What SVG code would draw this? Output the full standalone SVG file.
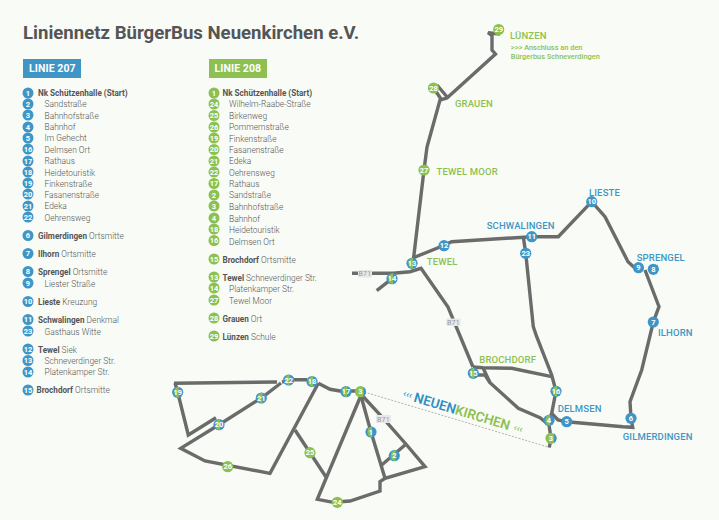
<svg xmlns="http://www.w3.org/2000/svg" width="719" height="520" viewBox="0 0 719 520">
<style>
text{font-family:Roboto,"Liberation Sans",sans-serif}
.bg{fill:#f9fbf6}
.t{font-size:18.600px;font-weight:700;fill:#555}
.h{font-size:10.500px;font-weight:700;fill:#fff;letter-spacing:.1px}
.r{font-size:8.400px;font-weight:300;fill:#555}
.b{font-size:8.150px;font-weight:700;fill:#555}
.n{font-size:7.500px;font-weight:700;fill:#fff;text-anchor:middle}
.lb{font-size:9.500px;font-weight:500;fill:#3f96c6;letter-spacing:.15px}
.lg{font-size:9.500px;font-weight:500;fill:#8cc152;letter-spacing:.15px}
.sg{font-size:7.400px;font-weight:500;fill:#8cc152}
.road{fill:none;stroke:#6b6b6b;stroke-width:3.400;stroke-linejoin:miter}
.dash{fill:none;stroke:#aaa;stroke-width:.9;stroke-dasharray:2 1.5}
.sign{fill:#e8e8e8}
.st{font-size:7px;fill:#999;text-anchor:middle;letter-spacing:.3px}
.cb{fill:#3f96c6}.cg{fill:#8cc152}
</style>
<defs>
<g id="mix"><circle r="5.600" fill="#3f96c6"/><path d="M1 -5.500A5.600 5.600 0 0 0 1 5.500Z" fill="#8cc152"/></g>
<g id="mix2"><circle r="5.600" fill="#8cc152"/><path d="M3 -4.700A5.600 5.600 0 0 1 3 4.700Z" fill="#3f96c6"/></g>
<circle id="blue" r="5.600" fill="#3f96c6"/>
<circle id="green" r="5.600" fill="#8cc152"/>
</defs>
<rect class="bg" width="719" height="520"/>
<text class="t" x="23" y="39">Liniennetz BürgerBus Neuenkirchen e.V.</text>

<g id="legend-207">
<rect x="23" y="59" width="58" height="19" class="cb"/><text class="h" x="29" y="72">LINIE 207</text>
<g class="cb"><circle cx="28" cy="93" r="5.500"/><circle cx="28" cy="104" r="5.500"/><circle cx="28" cy="115" r="5.500"/><circle cx="28" cy="127" r="5.500"/><circle cx="28" cy="138" r="5.500"/><circle cx="28" cy="149" r="5.500"/><circle cx="28" cy="161" r="5.500"/><circle cx="28" cy="172" r="5.500"/><circle cx="28" cy="183" r="5.500"/><circle cx="28" cy="194" r="5.500"/><circle cx="28" cy="206" r="5.500"/><circle cx="28" cy="217" r="5.500"/><circle cx="28" cy="235.500" r="5.500"/><circle cx="28" cy="253.500" r="5.500"/><circle cx="28" cy="271.500" r="5.500"/><circle cx="28" cy="283" r="5.500"/><circle cx="28" cy="301.500" r="5.500"/><circle cx="28" cy="319.500" r="5.500"/><circle cx="28" cy="331" r="5.500"/><circle cx="28" cy="349" r="5.500"/><circle cx="28" cy="360.500" r="5.500"/><circle cx="28" cy="372" r="5.500"/><circle cx="28" cy="390" r="5.500"/></g>
<text class="n" x="28" y="95.700">1</text><text class="n" x="28" y="106.700">2</text><text class="n" x="28" y="117.700">3</text><text class="n" x="28" y="129.700">4</text><text class="n" x="28" y="140.700">5</text><text class="n" x="28" y="151.700">16</text><text class="n" x="28" y="163.700">17</text><text class="n" x="28" y="174.700">18</text><text class="n" x="28" y="185.700">19</text><text class="n" x="28" y="196.700">20</text><text class="n" x="28" y="208.700">21</text><text class="n" x="28" y="219.700">22</text><text class="n" x="28" y="238.200">6</text><text class="n" x="28" y="256.200">7</text><text class="n" x="28" y="274.200">8</text><text class="n" x="28" y="285.700">9</text><text class="n" x="28" y="304.200">10</text><text class="n" x="28" y="322.200">11</text><text class="n" x="28" y="333.700">23</text><text class="n" x="28" y="351.700">12</text><text class="n" x="28" y="363.200">13</text><text class="n" x="28" y="374.700">14</text><text class="n" x="28" y="392.700">15</text>
<text class="b" x="38" y="96">Nk Schützenhalle (Start)</text>
<text class="r" x="44.500" y="107">Sandstraße</text><text class="r" x="44.500" y="119">Bahnhofstraße</text><text class="r" x="44.500" y="130">Bahnhof</text><text class="r" x="44.500" y="141">Im Gehecht</text><text class="r" x="44.500" y="153">Delmsen Ort</text><text class="r" x="44.500" y="164">Rathaus</text><text class="r" x="44.500" y="176">Heidetouristik</text><text class="r" x="44.500" y="187">Finkenstraße</text><text class="r" x="44.500" y="198">Fasanenstraße</text><text class="r" x="44.500" y="209">Edeka</text><text class="r" x="44.500" y="221">Oehrensweg</text>
<text class="b" x="38" y="239">Gilmerdingen <tspan class="r">Ortsmitte</tspan></text>
<text class="b" x="38" y="257">Ilhorn <tspan class="r">Ortsmitte</tspan></text>
<text class="b" x="38" y="275">Sprengel <tspan class="r">Ortsmitte</tspan></text>
<text class="r" x="44.500" y="287">Liester Straße</text>
<text class="b" x="38" y="305">Lieste <tspan class="r">Kreuzung</tspan></text>
<text class="b" x="38" y="323">Schwalingen <tspan class="r">Denkmal</tspan></text>
<text class="r" x="44.500" y="335">Gasthaus Witte</text>
<text class="b" x="38" y="353">Tewel <tspan class="r">Siek</tspan></text>
<text class="r" x="44.500" y="364">Schneverdinger Str.</text><text class="r" x="44.500" y="375">Platenkamper Str.</text>
<text class="b" x="36.500" y="393">Brochdorf <tspan class="r">Ortsmitte</tspan></text>
</g>

<g id="legend-208">
<rect x="209" y="59" width="58" height="19" class="cg"/><text class="h" x="214.500" y="72">LINIE 208</text>
<g class="cg"><circle cx="214" cy="93" r="5.500"/><circle cx="214" cy="104" r="5.500"/><circle cx="214" cy="115.500" r="5.500"/><circle cx="214" cy="127" r="5.500"/><circle cx="214" cy="138" r="5.500"/><circle cx="214" cy="149.500" r="5.500"/><circle cx="214" cy="161" r="5.500"/><circle cx="214" cy="172" r="5.500"/><circle cx="214" cy="183.500" r="5.500"/><circle cx="214" cy="195" r="5.500"/><circle cx="214" cy="206" r="5.500"/><circle cx="214" cy="218" r="5.500"/><circle cx="214" cy="229" r="5.500"/><circle cx="214" cy="240.500" r="5.500"/><circle cx="214" cy="259" r="5.500"/><circle cx="214" cy="277" r="5.500"/><circle cx="214" cy="288" r="5.500"/><circle cx="214" cy="300" r="5.500"/><circle cx="214" cy="318" r="5.500"/><circle cx="214" cy="336" r="5.500"/></g>
<text class="n" x="214" y="95.700">1</text><text class="n" x="214" y="106.700">24</text><text class="n" x="214" y="118.200">25</text><text class="n" x="214" y="129.700">26</text><text class="n" x="214" y="140.700">19</text><text class="n" x="214" y="152.200">20</text><text class="n" x="214" y="163.700">21</text><text class="n" x="214" y="174.700">22</text><text class="n" x="214" y="186.200">17</text><text class="n" x="214" y="197.700">2</text><text class="n" x="214" y="208.700">3</text><text class="n" x="214" y="220.700">4</text><text class="n" x="214" y="231.700">18</text><text class="n" x="214" y="243.200">16</text><text class="n" x="214" y="261.700">15</text><text class="n" x="214" y="279.700">13</text><text class="n" x="214" y="290.700">14</text><text class="n" x="214" y="302.700">27</text><text class="n" x="214" y="320.700">28</text><text class="n" x="214" y="338.700">29</text>
<text class="b" x="222.500" y="96">Nk Schützenhalle (Start)</text>
<text class="r" x="229" y="107">Wilhelm-Raabe-Straße</text><text class="r" x="229" y="119">Birkenweg</text><text class="r" x="229" y="130">Pommernstraße</text><text class="r" x="229" y="142">Finkenstraße</text><text class="r" x="229" y="153">Fasanenstraße</text><text class="r" x="229" y="164">Edeka</text><text class="r" x="229" y="176">Oehrensweg</text><text class="r" x="229" y="187">Rathaus</text><text class="r" x="229" y="198">Sandstraße</text><text class="r" x="229" y="210">Bahnhofstraße</text><text class="r" x="229" y="222">Bahnhof</text><text class="r" x="229" y="233">Heidetouristik</text><text class="r" x="229" y="245">Delmsen Ort</text>
<text class="b" x="222.500" y="263">Brochdorf <tspan class="r">Ortsmitte</tspan></text>
<text class="b" x="222.500" y="281">Tewel <tspan class="r">Schneverdinger Str.</tspan></text>
<text class="r" x="229" y="292">Platenkamper Str.</text><text class="r" x="229" y="304">Tewel Moor</text>
<text class="b" x="222.500" y="322">Grauen <tspan class="r">Ort</tspan></text>
<text class="b" x="222.500" y="340">Lünzen <tspan class="r">Schule</tspan></text>
</g>

<g id="connectors">
<path class="dash" d="M361 391 L549.500 447.500"/>
<path class="road" d="M500 34 L488 32.700 L492 35.500 V50 L495.500 54 L447 98 L440 100 L427 147 L424 170 L413 263"/>
<path class="road" d="M433 87 L441 99 M437 85 L448 98"/>
<path class="road" d="M352 273.300 H393 L410 271.700 L421 268.300 L448 307 L473 367"/>
<path class="road" d="M376.700 290.700 L392 278.700"/>
<path class="road" d="M412.700 258 L440 247 L451.700 241.700 L531.700 236.700 H558.300 L591.700 201.700 L605 216.700 L628 261.700 L634 267.300"/>
<path class="road" d="M523.300 236.700 L525.700 253 L533.300 326.700 L536.700 336.700 L551.700 375 L556 391 L551.700 413.300 L549 420"/>
<path class="road" d="M645 270 L659 306.700 L653.300 322 L641.700 370 L630 401.700 L631 418 L632.700 427.300 L623 426.700 L566.700 421.700 L558 420 L551.700 413.300"/>
<path class="road" d="M473 367 L483 367.700 L511.700 368.300 L551.700 376.700"/>
<path class="road" d="M476.700 375 H485 L490 382.700 L518.300 408.300 L540 417.700 L549 425 L551 438 L549.300 447.500"/>
<path class="road" d="M483 367.700 L490 382.700"/>
<path class="road" d="M174 383.300 L277 382 M175 383 L177.700 392.300 L188.300 435 L216 417.700"/>
<path class="road" d="M281 383 L261.300 398 L219 424.700 L180.700 448.300 L205 461 L270 473.300 L318.300 383.300"/>
<path class="road" d="M282 382 L293 379.700 H307"/>
<path class="road" d="M295 430 L310 452.700 L326 477"/>
<path class="road" d="M318.300 383.300 L330 389.300 L340 391 H360"/>
<path class="road" d="M360.700 396 L317.300 499.300 L333.300 502.300 L350 501 L380 491 V481.700 L385 478.300 L425 466.700 L406.700 445 L383.300 418.300 L361.700 395"/>
<path class="road" d="M361 396 L371 432 L385 478.300"/>
<path class="road" d="M381.700 465 L405 445"/>
<path class="road" d="M656.500 265 L657 268" style="stroke-width:2"/>
</g>

<g id="signs">
<rect class="sign" x="358" y="270" width="14" height="7.500"/><text class="st" x="365" y="276.200">B71</text>
<rect class="sign" x="446.500" y="318.500" width="14" height="7.500"/><text class="st" x="453.500" y="324.800">B71</text>
<rect class="sign" x="376" y="415" width="15" height="8"/><text class="st" x="383.500" y="421.500">B71</text>
</g>

<g id="stop-29"><use href="#green" x="498.700" y="29.500"/><text class="n" x="498.700" y="32.200">29</text></g>
<g id="stop-28"><use href="#green" x="433.500" y="88"/><text class="n" x="433.500" y="90.700">28</text></g>
<g id="stop-27"><use href="#green" x="424" y="170"/><text class="n" x="424" y="172.700">27</text></g>
<g id="stop-13"><use href="#mix" x="412" y="263.300"/><text class="n" x="412" y="266">13</text></g>
<g id="stop-14"><use href="#mix" x="392" y="278.700"/><text class="n" x="392" y="281.400">14</text></g>
<g id="stop-12"><use href="#blue" x="444" y="245.700"/><text class="n" x="444" y="248.400">12</text></g>
<g id="stop-11"><use href="#blue" x="531.700" y="236.700"/><text class="n" x="531.700" y="239.400">11</text></g>
<g id="stop-23"><use href="#blue" x="525.700" y="253.300"/><text class="n" x="525.700" y="256">23</text></g>
<g id="stop-10"><use href="#blue" x="591.700" y="201.700"/><text class="n" x="591.700" y="204.400">10</text></g>
<g id="stop-9"><use href="#blue" x="638.500" y="267.700"/><text class="n" x="638.500" y="270.400">9</text></g>
<g id="stop-8"><use href="#blue" x="653.300" y="269.300"/><text class="n" x="653.300" y="272">8</text></g>
<g id="stop-7"><use href="#blue" x="653.300" y="322"/><text class="n" x="653.300" y="324.700">7</text></g>
<g id="stop-6"><use href="#blue" x="631" y="418.300"/><text class="n" x="631" y="421">6</text></g>
<g id="stop-5"><use href="#blue" x="566.700" y="421.700"/><text class="n" x="566.700" y="424.400">5</text></g>
<g id="stop-4"><use href="#mix" x="549" y="420.300"/><text class="n" x="549" y="423">4</text></g>
<g id="stop-3"><use href="#mix2" x="551" y="438.300"/><text class="n" x="551" y="441">3</text></g>
<g id="stop-16"><use href="#mix" x="556" y="391.300"/><text class="n" x="556" y="394">16</text></g>
<g id="stop-15"><use href="#mix" x="473.300" y="373.300"/><text class="n" x="473.300" y="376">15</text></g>
<g id="stop-19"><use href="#mix" x="177.700" y="392.300"/><text class="n" x="177.700" y="395">19</text></g>
<g id="stop-20"><use href="#mix" x="219" y="424.700"/><text class="n" x="219" y="427.400">20</text></g>
<g id="stop-21"><use href="#mix" x="261.300" y="398"/><text class="n" x="261.300" y="400.700">21</text></g>
<g id="stop-22"><use href="#mix" x="288.700" y="380"/><text class="n" x="288.700" y="382.700">22</text></g>
<g id="stop-18"><use href="#mix" x="312" y="381.500"/><text class="n" x="312" y="384.200">18</text></g>
<g id="stop-17"><use href="#mix" x="346" y="391.700"/><text class="n" x="346" y="394.400">17</text></g>
<g id="stop-3b"><use href="#mix2" x="360.500" y="391.700"/><text class="n" x="360.500" y="394.400">3</text></g>
<g id="stop-1"><use href="#mix" x="371" y="432"/><text class="n" x="371" y="434.700">1</text></g>
<g id="stop-2"><use href="#mix" x="394.300" y="455.700"/><text class="n" x="394.300" y="458.400">2</text></g>
<g id="stop-24"><use href="#green" x="337.300" y="502.300"/><text class="n" x="337.300" y="505">24</text></g>
<g id="stop-25"><use href="#green" x="310" y="452.700"/><text class="n" x="310" y="455.400">25</text></g>
<g id="stop-26"><use href="#green" x="227.700" y="466.700"/><text class="n" x="227.700" y="469.400">26</text></g>

<g id="labels">
<text class="lg" x="510" y="39">LÜNZEN</text>
<text class="sg" x="510.800" y="49.500">&gt;&gt;&gt; Anschluss an den</text>
<text class="sg" x="510.800" y="58.500">Bürgerbus Schneverdingen</text>
<text class="lg" x="455" y="107">GRAUEN</text>
<text class="lg" x="436.500" y="175">TEWEL MOOR</text>
<text class="lg" x="426.700" y="265">TEWEL</text>
<text class="lb" x="486.700" y="229">SCHWALINGEN</text>
<text class="lb" x="589" y="196">LIESTE</text>
<text class="lb" x="636.700" y="261">SPRENGEL</text>
<text class="lb" x="658" y="336">ILHORN</text>
<text class="lg" x="479.300" y="363">BROCHDORF</text>
<text class="lb" x="557.700" y="412">DELMSEN</text>
<text class="lb" x="622.700" y="440">GILMERDINGEN</text>
<g transform="translate(413 401.500) rotate(16.800)"><text style="font-size:13.500px;font-weight:600"><tspan fill="#2f8fc4">NEUEN</tspan><tspan fill="#8cc152">KIRCHEN</tspan></text></g>
<text transform="translate(402.500 396) rotate(16.800)" style="font-size:10px;font-weight:500" fill="#3f96c6">‹‹‹</text>
<text transform="translate(513 430) rotate(16.800)" style="font-size:10px;font-weight:500" fill="#8cc152">‹‹‹</text>
</g>
</svg>
